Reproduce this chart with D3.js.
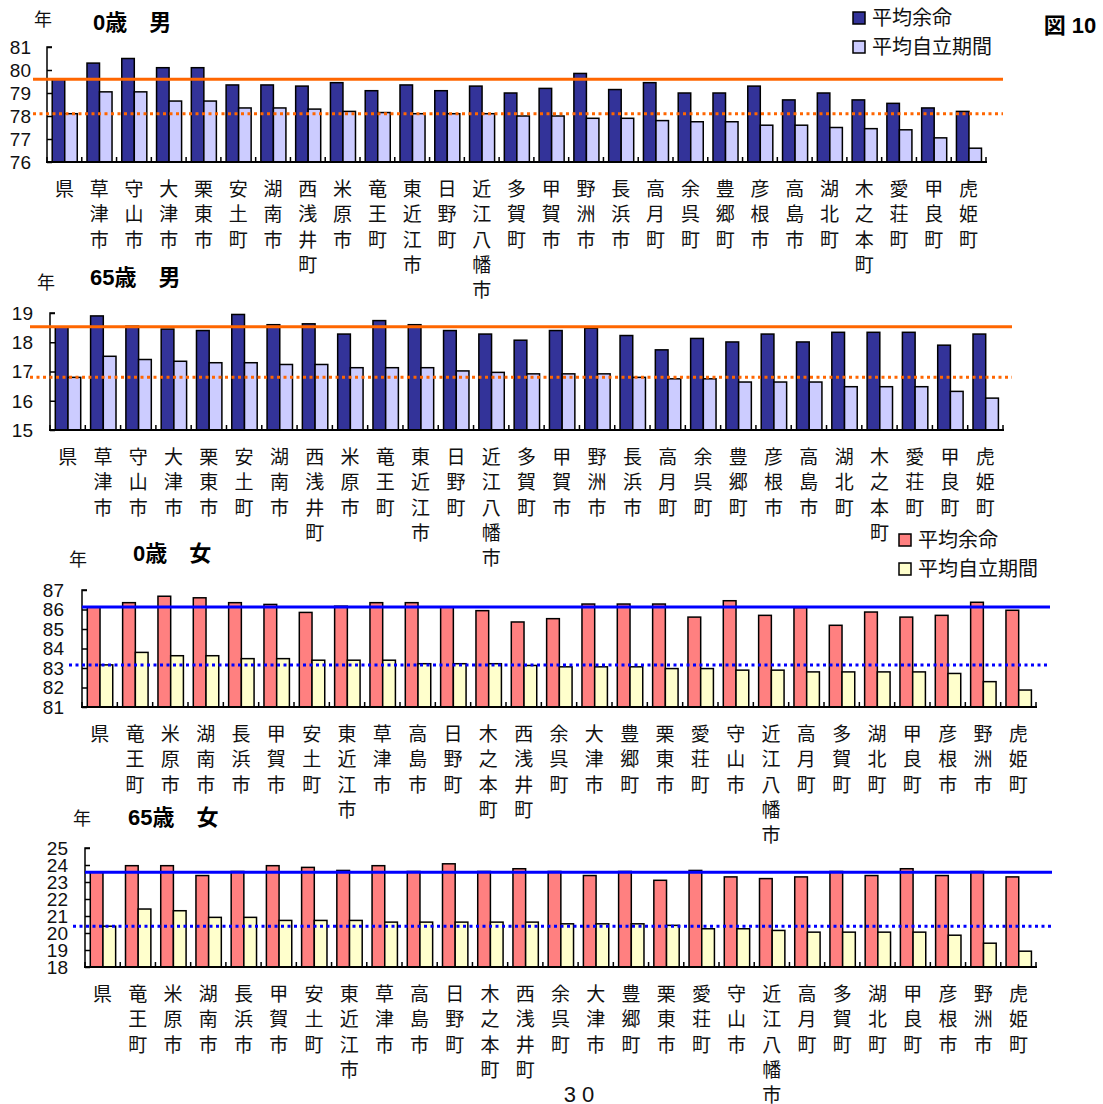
<!DOCTYPE html>
<html>
<head>
<meta charset="utf-8">
<script src="https://cdn.jsdelivr.net/npm/d3@7"></script>
<style>
  body { margin: 0; background: #fff; }
  svg { display: block; font-family: "Liberation Sans", "Noto Sans CJK JP", sans-serif; }
</style>
</head>
<body>
<svg id="chart" width="1103" height="1104"></svg>
<script>
// categories
const catsMale = ["県","草津市","守山市","大津市","栗東市","安土町","湖南市","西浅井町","米原市","竜王町","東近江市","日野町","近江八幡市","多賀町","甲賀市","野洲市","長浜市","高月町","余呉町","豊郷町","彦根市","高島市","湖北町","木之本町","愛荘町","甲良町","虎姫町"];
const catsFemale = ["県","竜王町","米原市","湖南市","長浜市","甲賀市","安土町","東近江市","草津市","高島市","日野町","木之本町","西浅井町","余呉町","大津市","豊郷町","栗東市","愛荘町","守山市","近江八幡市","高月町","多賀町","湖北町","甲良町","彦根市","野洲市","虎姫町"];

// 0歳 男
const male0Life  = [79.6,80.3,80.5,80.1,80.1,79.35,79.35,79.3,79.45,79.1,79.35,79.1,79.3,79.0,79.2,79.85,79.15,79.45,79.0,79.0,79.3,78.7,79.0,78.7,78.55,78.35,78.2];
const male0Indep = [78.1,79.05,79.05,78.65,78.65,78.35,78.35,78.3,78.2,78.15,78.1,78.1,78.1,78.0,78.0,77.9,77.9,77.8,77.75,77.75,77.6,77.6,77.5,77.45,77.4,77.05,76.6];
// 65歳 男
const male65Life  = [18.53,18.9,18.55,18.45,18.4,18.95,18.6,18.63,18.28,18.74,18.6,18.4,18.28,18.07,18.4,18.48,18.23,17.74,18.13,18.01,18.28,18.01,18.34,18.34,18.34,17.9,18.28];
const male65Indep = [16.8,17.52,17.41,17.35,17.3,17.3,17.24,17.24,17.13,17.13,17.13,17.02,16.97,16.92,16.92,16.92,16.8,16.75,16.75,16.64,16.64,16.64,16.48,16.48,16.48,16.32,16.09];
// 0歳 女
const female0Life  = [86.13,86.35,86.68,86.6,86.35,86.26,85.85,86.17,86.35,86.35,86.12,85.94,85.36,85.53,86.28,86.28,86.28,85.61,86.45,85.7,86.1,85.19,85.87,85.61,85.7,86.37,85.96];
const female0Indep = [83.16,83.8,83.63,83.63,83.48,83.48,83.4,83.4,83.4,83.22,83.22,83.22,83.13,83.06,83.06,83.06,82.97,82.97,82.89,82.89,82.8,82.8,82.8,82.8,82.72,82.3,81.87];
// 65歳 女
const female65Life  = [23.58,23.96,23.96,23.38,23.62,23.96,23.86,23.68,23.96,23.62,24.07,23.62,23.78,23.62,23.38,23.62,23.1,23.68,23.3,23.2,23.3,23.62,23.38,23.78,23.38,23.62,23.3];
const female65Indep = [20.4,21.41,21.31,20.92,20.92,20.74,20.74,20.74,20.64,20.64,20.64,20.64,20.64,20.54,20.54,20.54,20.45,20.25,20.25,20.15,20.05,20.05,20.05,20.05,19.87,19.4,18.93];

const seriesNames = ["平均余命", "平均自立期間"];
const maleColors = ["#333399", "#ccccff"];
const femaleColors = ["#ff8080", "#ffffcc"];

const svg = d3.select("#chart");

const panels = [
  {title: "0歳　男", cats: catsMale, life: male0Life, indep: male0Indep, dom: [76, 81],
   x0: 47, x1: 986, yTop: 47, yBot: 162, lineL: 33, dotL: 33, lineR: 1003,
   colors: maleColors, lineColor: "#ff6600", unitX: 43, unitY: 20, titleX: 93, titleY: 22, tickX: 31},
  {title: "65歳　男", cats: catsMale, life: male65Life, indep: male65Indep, dom: [15, 19],
   x0: 50, x1: 1003, yTop: 313, yBot: 430, lineL: 30, dotL: 30, lineR: 1012,
   colors: maleColors, lineColor: "#ff6600", unitX: 46, unitY: 283, titleX: 90, titleY: 277, tickX: 33},
  {title: "0歳　女", cats: catsFemale, life: female0Life, indep: female0Indep, dom: [81, 87],
   x0: 82, x1: 1036, yTop: 590, yBot: 707, lineL: 82, dotL: 69, lineR: 1050,
   colors: femaleColors, lineColor: "#0000ff", unitX: 78, unitY: 560, titleX: 133, titleY: 553, tickX: 64},
  {title: "65歳　女", cats: catsFemale, life: female65Life, indep: female65Indep, dom: [18, 25],
   x0: 85, x1: 1036, yTop: 848, yBot: 967, lineL: 85, dotL: 73, lineR: 1052,
   colors: femaleColors, lineColor: "#0000ff", unitX: 82, unitY: 819, titleX: 128, titleY: 817, tickX: 68}
];

panels.forEach(p => {
  const g = svg.append("g");
  const x = d3.scaleBand().domain(p.cats).range([p.x0, p.x1]);
  const bw = x.bandwidth();
  const sub = d3.scaleBand().domain(seriesNames).range([bw * 0.15, bw * 0.87]);
  const y = d3.scaleLinear().domain(p.dom).range([p.yBot, p.yTop]);

  const rows = p.cats.map((c, i) => ({cat: c, vals: [p.life[i], p.indep[i]]}));

  // bars
  const grp = g.selectAll(".cat").data(rows).join("g")
    .attr("transform", d => `translate(${x(d.cat)},0)`);
  grp.selectAll("rect").data(d => d.vals.map((v, k) => ({k, v}))).join("rect")
    .attr("x", d => sub(seriesNames[d.k]))
    .attr("width", sub.bandwidth())
    .attr("y", d => y(d.v))
    .attr("height", d => y(p.dom[0]) - y(d.v))
    .attr("fill", d => p.colors[d.k])
    .attr("stroke", "#000")
    .attr("stroke-width", 1.5);

  // y axis (ticks inside)
  const yAxis = d3.axisRight(y).ticks(p.dom[1] - p.dom[0]).tickSize(5).tickFormat("");
  const ya = g.append("g").attr("transform", `translate(${p.x0},0)`).call(yAxis);
  ya.select(".domain").attr("d", `M5,${p.yTop}H0V${p.yBot}`).attr("stroke-width", 1.5);
  ya.selectAll(".tick line").attr("stroke-width", 1.5);

  g.selectAll(".ylab").data(y.ticks(p.dom[1] - p.dom[0])).join("text")
    .attr("x", p.tickX).attr("y", d => y(d))
    .attr("dy", "0.36em").attr("text-anchor", "end")
    .attr("font-size", 19).attr("fill", "#111")
    .text(d => d);

  // x axis baseline + boundary ticks pointing up
  const bounds = p.cats.map(c => x(c)).concat([p.x1]);
  g.selectAll(".xt").data(bounds).join("line")
    .attr("x1", d => d).attr("x2", d => d)
    .attr("y1", p.yBot).attr("y2", p.yBot - 5)
    .attr("stroke", "#000").attr("stroke-width", 1.5);
  g.append("line")
    .attr("x1", p.x0 - 1).attr("x2", p.x1 + 1)
    .attr("y1", p.yBot).attr("y2", p.yBot)
    .attr("stroke", "#000").attr("stroke-width", 2);

  // category labels, one character per line
  const lab = g.selectAll(".xl").data(p.cats).join("text")
    .attr("text-anchor", "middle").attr("font-size", 19).attr("fill", "#111")
    .attr("font-family", "Noto Sans CJK JP");
  lab.selectAll("tspan").data(d => Array.from(d).map(ch => ({ch, d}))).join("tspan")
    .attr("x", d => x(d.d) + bw / 2)
    .attr("y", (d, i) => p.yBot + 34 + i * 25.3)
    .text(d => d.ch);

  // 県 reference lines
  g.append("line")
    .attr("x1", p.lineL).attr("x2", p.lineR)
    .attr("y1", y(p.life[0])).attr("y2", y(p.life[0]))
    .attr("stroke", p.lineColor).attr("stroke-width", 3);
  g.append("line")
    .attr("x1", p.dotL).attr("x2", p.lineR)
    .attr("y1", y(p.indep[0])).attr("y2", y(p.indep[0]))
    .attr("stroke", p.lineColor).attr("stroke-width", 3)
    .attr("stroke-dasharray", "3 3.5");

  // unit and title
  g.append("text").attr("x", p.unitX).attr("y", p.unitY).attr("dy", "0.36em")
    .attr("text-anchor", "middle").attr("font-size", 18).attr("fill", "#111")
    .attr("font-family", "Noto Sans CJK JP").text("年");
  g.append("text").attr("x", p.titleX).attr("y", p.titleY).attr("dy", "0.36em")
    .attr("font-size", 22).attr("font-weight", "bold").attr("fill", "#000")
    .text(p.title);
});

// legends
function legend(lx, ly, colors) {
  const lg = svg.append("g").attr("transform", `translate(${lx},${ly})`);
  seriesNames.forEach((n, i) => {
    lg.append("rect").attr("x", 0).attr("y", i * 29 - 6).attr("width", 12).attr("height", 12)
      .attr("fill", colors[i]).attr("stroke", "#000").attr("stroke-width", 1.5);
    lg.append("text").attr("x", 19).attr("y", i * 29).attr("dy", "0.36em")
      .attr("font-size", 20).attr("fill", "#111").attr("font-family", "Noto Sans CJK JP")
      .text(n);
  });
}
legend(853, 18, maleColors);
legend(899, 540, femaleColors);

svg.append("text").attr("x", 1070).attr("y", 25).attr("dy", "0.36em")
  .attr("text-anchor", "middle").attr("font-size", 22).attr("font-weight", "bold")
  .text("図 10");

svg.append("text").attr("x", 582).attr("y", 1094).attr("dy", "0.36em")
  .attr("text-anchor", "middle").attr("font-size", 22).attr("letter-spacing", 6)
  .attr("fill", "#111").text("30");
</script>
</body>
</html>
